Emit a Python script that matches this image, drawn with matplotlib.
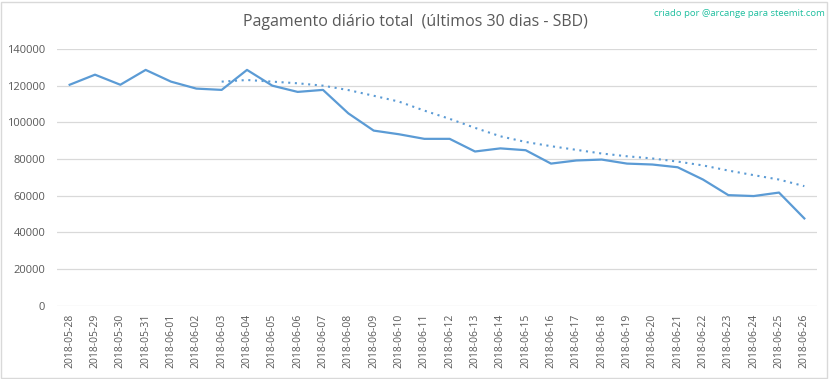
import matplotlib
matplotlib.use("Agg")
import matplotlib.pyplot as plt
from matplotlib.patches import Rectangle

dates = ["2018-05-28", "2018-05-29", "2018-05-30", "2018-05-31", "2018-06-01",
         "2018-06-02", "2018-06-03", "2018-06-04", "2018-06-05", "2018-06-06",
         "2018-06-07", "2018-06-08", "2018-06-09", "2018-06-10", "2018-06-11",
         "2018-06-12", "2018-06-13", "2018-06-14", "2018-06-15", "2018-06-16",
         "2018-06-17", "2018-06-18", "2018-06-19", "2018-06-20", "2018-06-21",
         "2018-06-22", "2018-06-23", "2018-06-24", "2018-06-25", "2018-06-26"]

daily_payout = [120500, 126000, 120500, 128600, 122200, 118400, 117700, 128600,
                120000, 116600, 117700, 104900, 95500, 93500, 91000, 91000,
                84100, 85800, 84800, 77500, 79200, 79700, 77500, 77000, 75500,
                68800, 60300, 59800, 61700, 47600]

# moving-average trend line (starts at 2018-06-03)
trend_dates = dates[6:]
trend_values = [122200, 123100, 122200, 121300, 120000, 117600, 114500, 111300,
                106400, 101900, 97000, 92400, 89300, 87000, 85000, 83000, 81500,
                80300, 78600, 76500, 73700, 71200, 68800, 65200]

yticks = [0, 20000, 40000, 60000, 80000, 100000, 120000, 140000]

title = "Pagamento diário total  (últimos 30 dias - SBD)"
credit = "criado por @arcange para steemit.com"

plt.rcParams['font.family'] = ['Open Sans', 'DejaVu Sans']

fig = plt.figure(figsize=(8.33, 3.79), dpi=100)
ax = fig.add_axes([57 / 833, 1 - 305.7 / 379, 760 / 833, 256.7 / 379])

color = "#5B9BD5"
x = list(range(len(dates)))
tx = [dates.index(d) for d in trend_dates]
ax.plot(x, daily_payout, color=color, lw=1.6, solid_joinstyle="round")
ax.plot(tx, trend_values, color=color, lw=1.5, linestyle=(0, (1, 2.2)))

ax.set_xlim(-0.5, len(dates) - 0.5)
ax.set_ylim(0, 140000)
ax.set_yticks(yticks)
ax.set_yticklabels([str(v) for v in yticks])
ax.set_xticks(x)
ax.set_xticklabels(dates, rotation=90)
ax.grid(axis="y", color="#D9D9D9", lw=0.9)
ax.set_axisbelow(True)
for s in ax.spines.values():
    s.set_visible(False)
ax.tick_params(axis="both", length=0, colors="#595959", labelsize=8)
ax.tick_params(axis="x", pad=6, labelsize=7.5)
ax.tick_params(axis="y", pad=8.5)

fig.text(415 / 833, 1 - 22 / 379, title, ha="center", va="center",
         fontsize=11.5, color="#595959")
fig.text(825 / 833, 1 - 14 / 379, credit, ha="right", va="center",
         fontsize=6.8, color="#1FBF9F")

fig.patches.append(Rectangle((1 / 833, 1 / 379), 826 / 833, 376 / 379,
                             transform=fig.transFigure, fill=False,
                             edgecolor="#D9D9D9", lw=1))

fig.savefig("out.png", dpi=100)
